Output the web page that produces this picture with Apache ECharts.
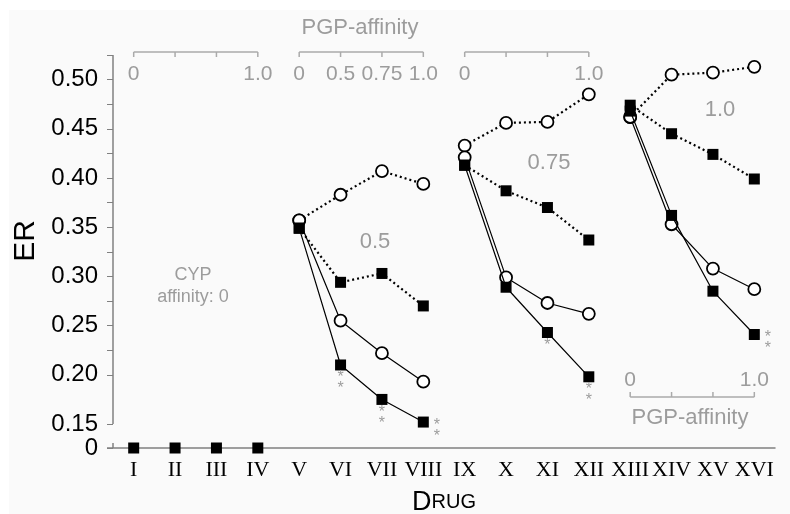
<!DOCTYPE html>
<html>
<head>
<meta charset="utf-8">
<script src="https://cdn.jsdelivr.net/npm/echarts@6.0.0/dist/echarts.min.js"></script>
<style>
  html, body { margin: 0; padding: 0; background: #fff; }
  #wrap { position: relative; width: 790px; height: 514px; }
  #bg { position: absolute; left: 9px; top: 10px; right: 0; bottom: 0; background: #fafafa; }
  #chart { position: absolute; left: 0; top: 0; width: 790px; height: 514px; }
</style>
</head>
<body>
<div id="wrap"><div id="bg"></div><div id="chart"></div></div>
<script>
  // drugs on the x axis
  const drugs = ['I', 'II', 'III', 'IV', 'V', 'VI', 'VII', 'VIII', 'IX', 'X', 'XI', 'XII', 'XIII', 'XIV', 'XV', 'XVI']
  // CYP affinity 0 drugs (I-IV)
  const baseline = [0, 0, 0, 0]
  // V..XVI, three groups of four (CYP affinity 0.5, 0.75, 1.0)
  const dotCircle = [0.357, 0.383, 0.407, 0.394, 0.433, 0.456, 0.457, 0.485, 0.462, 0.505, 0.507, 0.513]
  const dotSquare = [0.349, 0.294, 0.303, 0.270, 0.413, 0.387, 0.370, 0.337, 0.474, 0.445, 0.424, 0.399]
  const solidCircle = [0.357, 0.255, 0.222, 0.193, 0.421, 0.299, 0.273, 0.262, 0.462, 0.353, 0.308, 0.287]
  const solidSquare = [0.349, 0.210, 0.175, 0.152, 0.413, 0.289, 0.243, 0.198, 0.468, 0.362, 0.285, 0.241]
  // significance marks on the solid-square series
  const signif = ['', '**', '**', '**', '', '', '*', '**', '', '', '', '**']
  const yTicks = [0, 0.15, 0.20, 0.25, 0.30, 0.35, 0.40, 0.45, 0.50]

  const sans = 'Arial, "Liberation Sans", sans-serif'
  const serif = '"Times New Roman", "Liberation Serif", serif'
  const gray = '#9c9c9c'
  const axisGray = '#808080'
  const sigRight = ['VIII', 'XVI']

  const chart = echarts.init(document.getElementById('chart'))

  function groupSeries(values, kind, dotted) {
    const out = []
    for (let g = 0; g < 3; g++) {
      const cats = drugs.slice(4 + g * 4, 8 + g * 4)
      const data = cats.map((c, i) => {
        const idx = g * 4 + i
        const item = { value: [c, values[idx]] }
        if (kind === 'rect' && !dotted && signif[idx]) {
          const right = sigRight.includes(c)
          item.label = {
            show: true,
            formatter: signif[idx].split('').join('\n'),
            position: right ? 'right' : 'bottom',
            distance: right ? 5 : 2,
            offset: right ? [0, 9] : [0, 0],
            color: gray,
            fontSize: 16,
            lineHeight: 11,
            fontFamily: sans
          }
        }
        return item
      })
      out.push({
        type: 'line',
        data,
        symbol: kind,
        symbolSize: kind === 'circle' ? 12 : 11,
        showAllSymbol: true,
        z: kind === 'rect' ? 4 : 3,
        itemStyle: kind === 'circle'
          ? { color: '#fff', borderColor: '#000', borderWidth: 1.8 }
          : { color: '#000', borderWidth: 0 },
        lineStyle: dotted
          ? { color: '#000', width: 2.2, type: [2, 3] }
          : { color: '#000', width: 1.2 },
        emphasis: { disabled: true },
        animation: false
      })
    }
    return out
  }

  const series = [
    ...groupSeries(dotCircle, 'circle', true),
    ...groupSeries(dotSquare, 'rect', true),
    ...groupSeries(solidCircle, 'circle', false),
    ...groupSeries(solidSquare, 'rect', false),
    {
      type: 'line',
      data: baseline.map((v, i) => [drugs[i], v]),
      symbol: 'rect',
      symbolSize: 11,
      itemStyle: { color: '#000' },
      lineStyle: { width: 0 },
      z: 5,
      animation: false
    }
  ]

  chart.setOption({
    animation: false,
    grid: { left: 113, right: 15, top: 55, bottom: 66, containLabel: false, outerBoundsMode: 'none' },
    xAxis: {
      type: 'category',
      data: drugs,
      boundaryGap: true,
      axisLine: { lineStyle: { color: axisGray, width: 1.5 } },
      axisTick: { alignWithLabel: true, length: 5, lineStyle: { color: axisGray } },
      axisLabel: { interval: 0, fontFamily: serif, fontSize: 22, color: '#000', margin: 11 },
      name: '{a|D}{b|RUG}',
      nameLocation: 'middle',
      nameGap: 41,
      nameTextStyle: {
        rich: {
          a: { fontFamily: sans, fontSize: 27, color: '#000' },
          b: { fontFamily: sans, fontSize: 20, color: '#000' }
        }
      }
    },
    yAxis: {
      type: 'value',
      min: 0,
      max: 0.525,
      interval: 0.05,
      breaks: [{ start: 0, end: 0.15, gap: '6.1%' }],
      breakArea: { show: false },
      axisLine: { show: false },
      axisTick: { show: true, length: 6, lineStyle: { color: axisGray } },
      minorTick: { show: true, splitNumber: 2, length: 6, lineStyle: { color: axisGray } },
      splitLine: { show: false },
      axisLabel: {
        fontFamily: sans,
        fontSize: 24,
        color: '#000',
        margin: 15,
        showMaxLabel: false,
        formatter: v => {
          const t = yTicks.find(k => Math.abs(k - v) < 1e-6)
          if (t === undefined) return ''
          return t === 0 ? '0' : t.toFixed(2)
        }
      }
    },
    series
  })

  // scale bars for PGP affinity, aligned with the drug categories
  const scaleBars = [
    { cats: ['I', 'II', 'III', 'IV'], labels: ['0', '', '', '1.0'], y: 52, dir: 1, ly: 74 },
    { cats: ['V', 'VI', 'VII', 'VIII'], labels: ['0', '0.5', '0.75', '1.0'], y: 52, dir: 1, ly: 74 },
    { cats: ['IX', 'X', 'XI', 'XII'], labels: ['0', '', '', '1.0'], y: 52, dir: 1, ly: 74 },
    { cats: ['XIII', 'XIV', 'XV', 'XVI'], labels: ['0', '', '', '1.0'], y: 397, dir: -1, ly: 380 }
  ]
  const notes = [
    { text: 'PGP-affinity', x: 360, y: 28, size: 22 },
    { text: 'PGP-affinity', x: 690, y: 418, size: 22 },
    { text: '0.5', x: 375, y: 242, size: 22 },
    { text: '0.75', x: 549, y: 163, size: 22 },
    { text: '1.0', x: 720, y: 110, size: 22 },
    { text: 'CYP', x: 193, y: 275, size: 18 },
    { text: 'affinity: 0', x: 193, y: 297, size: 18 }
  ]

  const xPix = c => chart.convertToPixel({ xAxisIndex: 0 }, c)
  const yPix = v => chart.convertToPixel({ yAxisIndex: 0 }, v)
  const axisX = xPix('I') - (xPix('II') - xPix('I')) / 2
  const graphic = []
  const axisStyle = { stroke: axisGray, lineWidth: 1.5 }
  // broken y axis: line from 0.15 to the top, a short stub at 0
  graphic.push({ type: 'line', silent: true, shape: { x1: axisX, y1: yPix(0.15), x2: axisX, y2: yPix(0.525) }, style: axisStyle })
  graphic.push({ type: 'line', silent: true, shape: { x1: axisX, y1: yPix(0), x2: axisX, y2: yPix(0) - 5 }, style: axisStyle })
  graphic.push({ type: 'line', silent: true, shape: { x1: axisX - 6, y1: yPix(0), x2: axisX, y2: yPix(0) }, style: axisStyle })
  graphic.push({
    type: 'text', silent: true, rotation: Math.PI / 2, x: 26, y: 241,
    style: { text: 'ER', fill: '#000', font: '30px ' + sans, textAlign: 'center', textVerticalAlign: 'middle' }
  })

  const barStyle = { stroke: '#aaa', lineWidth: 1.5 }
  scaleBars.forEach(b => {
    const xs = b.cats.map(c => xPix(c))
    graphic.push({ type: 'line', shape: { x1: xs[0], y1: b.y, x2: xs[3], y2: b.y }, style: barStyle, silent: true })
    xs.forEach((x, i) => {
      graphic.push({ type: 'line', shape: { x1: x, y1: b.y, x2: x, y2: b.y + 5 * b.dir }, style: barStyle, silent: true })
      if (b.labels[i]) {
        graphic.push({
          type: 'text', silent: true,
          style: { text: b.labels[i], x, y: b.ly, fill: gray, font: '21px ' + sans, textAlign: 'center', textVerticalAlign: 'middle' }
        })
      }
    })
  })
  notes.forEach(n => {
    graphic.push({
      type: 'text', silent: true,
      style: { text: n.text, x: n.x, y: n.y, fill: gray, font: n.size + 'px ' + sans, textAlign: 'center', textVerticalAlign: 'middle' }
    })
  })
  chart.setOption({ graphic })
</script>
</body>
</html>
